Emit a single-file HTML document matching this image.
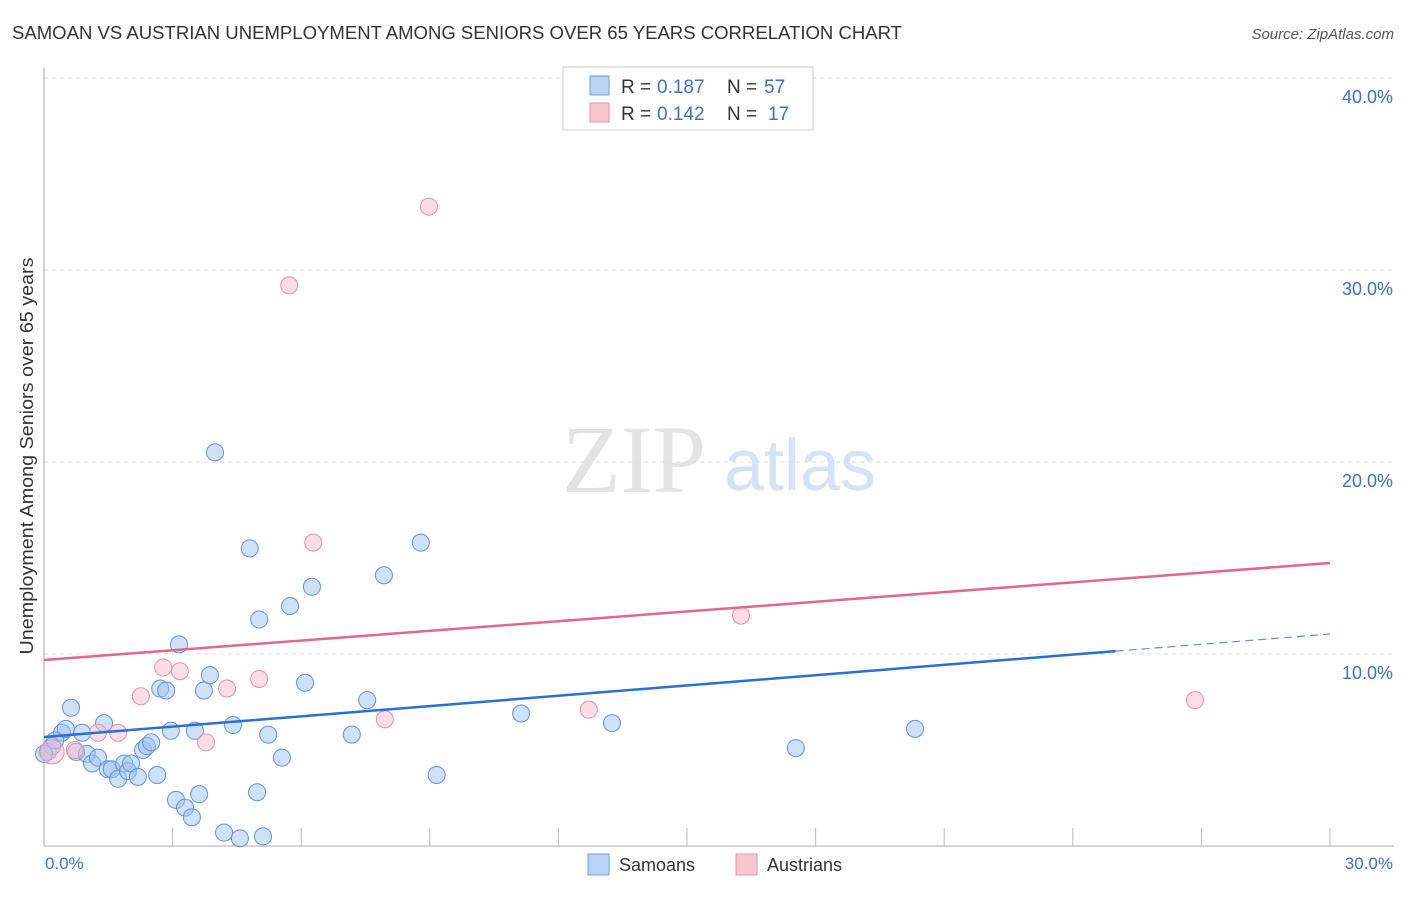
<!DOCTYPE html>
<html><head><meta charset="utf-8"><style>
body{margin:0;background:#fff;font-family:"Liberation Sans",sans-serif;}
</style></head><body>
<svg width="1406" height="892" xmlns="http://www.w3.org/2000/svg">
<text x="12" y="39" font-size="18" fill="#333" textLength="890" lengthAdjust="spacingAndGlyphs">SAMOAN VS AUSTRIAN UNEMPLOYMENT AMONG SENIORS OVER 65 YEARS CORRELATION CHART</text>
<text x="1394" y="39" font-size="15" fill="#555" font-style="italic" text-anchor="end">Source: ZipAtlas.com</text>
<text x="634" y="492" font-size="96" fill="#e3e3e3" font-family="Liberation Serif" text-anchor="middle">ZIP</text>
<text x="800" y="490" font-size="72" fill="#d6e2f5" text-anchor="middle">atlas</text>
<g id="grid"></g>
<line x1="44" y1="68" x2="44" y2="846" stroke="#aaa"/>
<line x1="44" y1="846" x2="1394" y2="846" stroke="#aaa"/>
<g id="xticks"></g>
<text transform="translate(33,456) rotate(-90)" font-size="18" fill="#333" text-anchor="middle" textLength="397" lengthAdjust="spacingAndGlyphs">Unemployment Among Seniors over 65 years</text>
<text x="45" y="869" font-size="17" fill="#3d6fd1">0.0%</text>
<text x="1393" y="869" font-size="17" fill="#3d6fd1" text-anchor="end">30.0%</text>
<g id="pts"></g>
<g id="lines"></g>
<g>
<rect x="563" y="67" width="250" height="63" fill="#fff" stroke="#ccc"/>
<rect x="590" y="76" width="19" height="19" fill="#b9d3f5" stroke="#6f9fe0"/>
<rect x="590" y="103" width="19" height="19" fill="#f9c5d3" stroke="#e990aa"/>
<text x="621" y="93" font-size="19" fill="#333">R = </text>
<text x="657" y="93" font-size="19" fill="#3d6fd1">0.187</text>
<text x="727" y="93" font-size="19" fill="#333">N = </text>
<text x="764" y="93" font-size="19" fill="#3d6fd1">57</text>
<text x="621" y="120" font-size="19" fill="#333">R = </text>
<text x="657" y="120" font-size="19" fill="#3d6fd1">0.142</text>
<text x="727" y="120" font-size="19" fill="#333">N = </text>
<text x="768" y="120" font-size="19" fill="#3d6fd1">17</text>
</g>
<g>
<rect x="588" y="854" width="21" height="21" fill="#b9d3f5" stroke="#6f9fe0"/>
<text x="619" y="871" font-size="18" fill="#333">Samoans</text>
<rect x="736" y="854" width="21" height="21" fill="#f9c5d3" stroke="#e990aa"/>
<text x="767" y="871" font-size="18" fill="#333">Austrians</text>
</g>
</svg>
<script>
const yTicks=[10,20,30,40];
const yTickLabels=["10.0%","20.0%","30.0%","40.0%"];
const samoanX=[0.09,0.19,0.42,0.51,0.63,0.75,0.89,1.0,1.12,1.26,1.4,1.49,1.58,1.73,1.87,1.96,2.03,2.19,2.31,2.4,2.5,2.64,2.71,2.85,2.96,3.08,3.15,3.29,3.45,3.52,3.62,3.73,3.87,3.99,4.2,4.41,4.57,4.8,4.97,5.02,5.11,5.23,5.55,5.74,6.09,6.25,7.18,7.54,7.93,8.79,9.16,11.13,13.25,17.54,20.32,0,0.26];
const samoanY=[4.9,5.2,5.9,6.1,7.2,4.9,5.9,4.8,4.3,4.6,6.4,4.0,4.0,3.5,4.3,3.9,4.3,3.6,5.0,5.2,5.4,3.7,8.2,8.1,6.0,2.4,10.5,2.0,1.5,6.0,2.7,8.1,8.9,20.5,0.7,6.3,0.4,15.5,2.8,11.8,0.5,5.8,4.6,12.5,8.5,13.5,5.8,7.6,14.1,15.8,3.7,6.9,6.4,5.1,6.1,4.8,5.5];
const austrianX=[0.19,0.72,1.26,1.73,2.26,2.78,3.17,3.78,4.27,5.02,5.72,6.28,7.95,8.98,12.71,16.26,26.85];
const austrianY=[4.9,5.0,5.9,5.9,7.8,9.3,9.1,5.4,8.2,8.7,29.2,15.8,6.6,33.3,7.1,12.0,7.6];
const trendX=[0,25,30];
const samoanTrendY=[5.68,10.15,11.04];
const austrianTrendY=[9.69,14.74];
const NS="http://www.w3.org/2000/svg";
const sx=v=>44+v/30*1286, sy=v=>846-v*19.2;
function mk(t,a,p){const e=document.createElementNS(NS,t);for(const k in a)e.setAttribute(k,a[k]);document.getElementById(p).appendChild(e);return e;}
yTicks.forEach((t,i)=>{
 const l=mk('line',{x1:44,x2:1394,y1:sy(t),y2:sy(t),stroke:'#ddd','stroke-dasharray':'4,4'},'grid');
 
 
 const tx=mk('text',{x:1393,y:sy(t)+25,'font-size':18,fill:'#3d6fd1','text-anchor':'end'},'grid');
 tx.textContent=yTickLabels[i];
 
 
});
for(let i=1;i<=10;i++){
 const x=sx(i*3);
 const l=mk('line',{x1:x,x2:x,y1:828,y2:846,stroke:'#bbb'},'xticks');
 
 
}
samoanX.forEach((v,i)=>{
 const c=mk('circle',{cx:sx(v),cy:sy(samoanY[i]),r:8.5,fill:'rgba(160,196,240,0.5)',stroke:'#5f93dc','stroke-width':1},'pts');
 
 
});
austrianX.forEach((v,i)=>{
 const c=mk('circle',{cx:sx(v),cy:sy(austrianY[i]),r:i==0?12:8.5,fill:'rgba(248,188,205,0.5)',stroke:'#e98fab','stroke-width':1},'pts');
 
 
});
let l=mk('line',{x1:sx(trendX[0]),y1:sy(samoanTrendY[0]),x2:sx(trendX[1]),y2:sy(samoanTrendY[1]),stroke:'#2a6fd6','stroke-width':2.5},'lines');


l=mk('line',{x1:sx(trendX[1]),y1:sy(samoanTrendY[1]),x2:sx(trendX[2]),y2:sy(samoanTrendY[2]),stroke:'#5f93dc','stroke-width':1.2,'stroke-dasharray':'8,5'},'lines');


l=mk('line',{x1:sx(trendX[0]),y1:sy(austrianTrendY[0]),x2:sx(trendX[2]),y2:sy(austrianTrendY[1]),stroke:'#e36690','stroke-width':2.5},'lines');


</script>
</body></html>
